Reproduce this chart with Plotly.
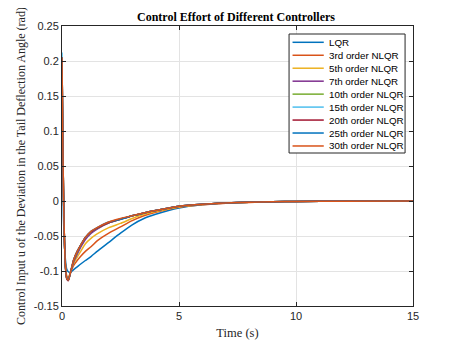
import plotly.graph_objects as go

# ---- data ----
time_s = [0, 0.03, 0.06, 0.1, 0.15, 0.2, 0.27, 0.35, 0.5, 0.65, 0.8, 1.0, 1.25, 1.5,
          2.0, 2.5, 3.0, 3.5, 4.0, 5.0, 6.0, 7.0, 8.0, 9.0, 10.0, 12.0, 15.0]

u_lqr = [0.19, 0.06, -0.02, -0.06, -0.085, -0.097, -0.101, -0.102, -0.098, -0.094, -0.090,
         -0.085, -0.079, -0.072, -0.059, -0.046, -0.034, -0.025, -0.019, -0.010, -0.0055,
         -0.003, -0.0018, -0.001, -0.0006, -0.0002, 0.0]
u_nlqr3 = [0.205, 0.10, 0.02, -0.05, -0.093, -0.107, -0.110, -0.103, -0.092, -0.085, -0.079,
           -0.072, -0.065, -0.057, -0.046, -0.037, -0.028, -0.021, -0.016, -0.009, -0.0055,
           -0.0033, -0.002, -0.0012, -0.0007, -0.0002, 0.0]
u_nlqr5 = [0.205, 0.10, 0.02, -0.05, -0.094, -0.108, -0.111, -0.103, -0.089, -0.080, -0.072,
           -0.061, -0.053, -0.047, -0.038, -0.032, -0.025, -0.019, -0.015, -0.0085, -0.005,
           -0.003, -0.0018, -0.001, -0.0006, -0.0002, 0.0]
u_nlqr7 = [0.205, 0.10, 0.02, -0.05, -0.095, -0.109, -0.112, -0.104, -0.087, -0.076, -0.066,
           -0.055, -0.046, -0.040, -0.031, -0.026, -0.021, -0.017, -0.0135, -0.0075, -0.0045,
           -0.0028, -0.0017, -0.001, -0.0006, -0.0002, 0.0]
u_nlqr10 = [0.205, 0.10, 0.02, -0.05, -0.095, -0.110, -0.113, -0.104, -0.085, -0.073, -0.063,
            -0.052, -0.044, -0.039, -0.031, -0.026, -0.021, -0.017, -0.0135, -0.0075, -0.0045,
            -0.0028, -0.0017, -0.001, -0.0006, -0.0002, 0.0]
u_nlqr15 = [0.212, 0.10, 0.02, -0.05, -0.095, -0.110, -0.113, -0.104, -0.084, -0.072, -0.063,
            -0.052, -0.044, -0.039, -0.031, -0.026, -0.021, -0.017, -0.0135, -0.0075, -0.0045,
            -0.0028, -0.0017, -0.001, -0.0006, -0.0002, 0.0]
u_nlqr20 = [0.205, 0.10, 0.02, -0.05, -0.096, -0.111, -0.114, -0.104, -0.084, -0.072, -0.063,
            -0.052, -0.044, -0.039, -0.031, -0.026, -0.021, -0.017, -0.0135, -0.0075, -0.0045,
            -0.0028, -0.0017, -0.001, -0.0006, -0.0002, 0.0]
u_nlqr25 = [0.205, 0.10, 0.02, -0.05, -0.095, -0.110, -0.113, -0.104, -0.084, -0.072, -0.063,
            -0.052, -0.043, -0.038, -0.030, -0.026, -0.021, -0.017, -0.0135, -0.0075, -0.0045,
            -0.0028, -0.0017, -0.001, -0.0006, -0.0002, 0.0]
u_nlqr30 = [0.205, 0.10, 0.02, -0.05, -0.095, -0.110, -0.113, -0.104, -0.084, -0.072, -0.063,
            -0.052, -0.043, -0.038, -0.030, -0.025, -0.021, -0.017, -0.0135, -0.0075, -0.0045,
            -0.0028, -0.0017, -0.001, -0.0006, -0.0002, 0.0]

series_names = ["LQR", "3rd order NLQR", "5th order NLQR", "7th order NLQR", "10th order NLQR",
                "15th order NLQR", "20th order NLQR", "25th order NLQR", "30th order NLQR"]
series_values = [u_lqr, u_nlqr3, u_nlqr5, u_nlqr7, u_nlqr10, u_nlqr15, u_nlqr20, u_nlqr25, u_nlqr30]

x_tickvals = [0, 5, 10, 15]
x_ticktext = ["0", "5", "10", "15"]
y_tickvals = [-0.15, -0.1, -0.05, 0, 0.05, 0.1, 0.15, 0.2, 0.25]
y_ticktext = ["-0.15", "-0.1", "-0.05", "0", "0.05", "0.1", "0.15", "0.2", "0.25"]

# ---- styling ----
colors = ["#0072BD", "#D95319", "#EDB120", "#7E2F8E", "#77AC30",
          "#4DBEEE", "#A2142F", "#0072BD", "#D95319"]

W, H = 457, 343
OFF = 8  # page body margin offset in the browser
L, R, T, B = 59 - OFF, 413 - OFF, 26 - OFF, 306 - OFF  # plot area in figure pixels

def px_x(x):
    return (x - OFF - L) / (R - L)

def px_y(y):
    return (B - (y - OFF)) / (B - T)

fig = go.Figure()
for name, vals, col in zip(series_names, series_values, colors):
    fig.add_trace(go.Scatter(x=time_s, y=vals, mode="lines", name=name,
                             line=dict(color=col, width=1.5, shape="spline", smoothing=0.6),
                             showlegend=False))

axis_common = dict(showline=True, linecolor="#262626", linewidth=1, mirror="ticks",
                   ticks="inside", ticklen=4, tickcolor="#262626",
                   showgrid=True, gridcolor="#e3e3e3", gridwidth=1, zeroline=False,
                   tickfont=dict(family="Liberation Sans, Arial", size=11, color="#262626"))

fig.update_xaxes(range=[0, 15], tickvals=x_tickvals, ticktext=x_ticktext,
                 title=dict(text="Time (s)", font=dict(family="Liberation Serif, Times New Roman",
                                                        size=12.5, color="#262626"), standoff=7),
                 **axis_common)
fig.update_yaxes(range=[-0.15, 0.25], tickvals=y_tickvals, ticktext=y_ticktext,
                 title=dict(text="Control Input u of the Deviation in the Tail Deflection Angle (rad)",
                            font=dict(family="Liberation Serif, Times New Roman", size=12,
                                      color="#262626"), standoff=5),
                 **axis_common)

# ---- manual legend (MATLAB style compact box) ----
shapes = [dict(type="rect", xref="paper", yref="paper",
               x0=px_x(288), x1=px_x(405), y0=px_y(153), y1=px_y(34),
               line=dict(color="#262626", width=1), fillcolor="white", layer="above")]
annotations = []
for i, (name, col) in enumerate(zip(series_names, colors)):
    yc = 42.3 + i * 12.96
    shapes.append(dict(type="line", xref="paper", yref="paper",
                       x0=px_x(291.5), x1=px_x(323), y0=px_y(yc), y1=px_y(yc),
                       line=dict(color=col, width=1.5), layer="above"))
    annotations.append(dict(x=px_x(326.5), y=px_y(yc), xref="paper", yref="paper",
                            text=name, showarrow=False, xanchor="left", yanchor="middle",
                            font=dict(family="Liberation Sans, Arial", size=9.8, color="black")))

fig.update_layout(
    width=W, height=H,
    margin=dict(l=L, r=W - R, t=T, b=H - B, pad=0),
    paper_bgcolor="white", plot_bgcolor="white",
    title=dict(text="<b>Control Effort of Different Controllers</b>",
               font=dict(family="Liberation Serif, Times New Roman", size=12, color="black"),
               x=(L + R) / 2 / W, xanchor="center", y=1 - (17 - OFF) / H, yanchor="middle"),
    shapes=shapes, annotations=annotations, showlegend=False,
)

fig.write_html("out.html")
